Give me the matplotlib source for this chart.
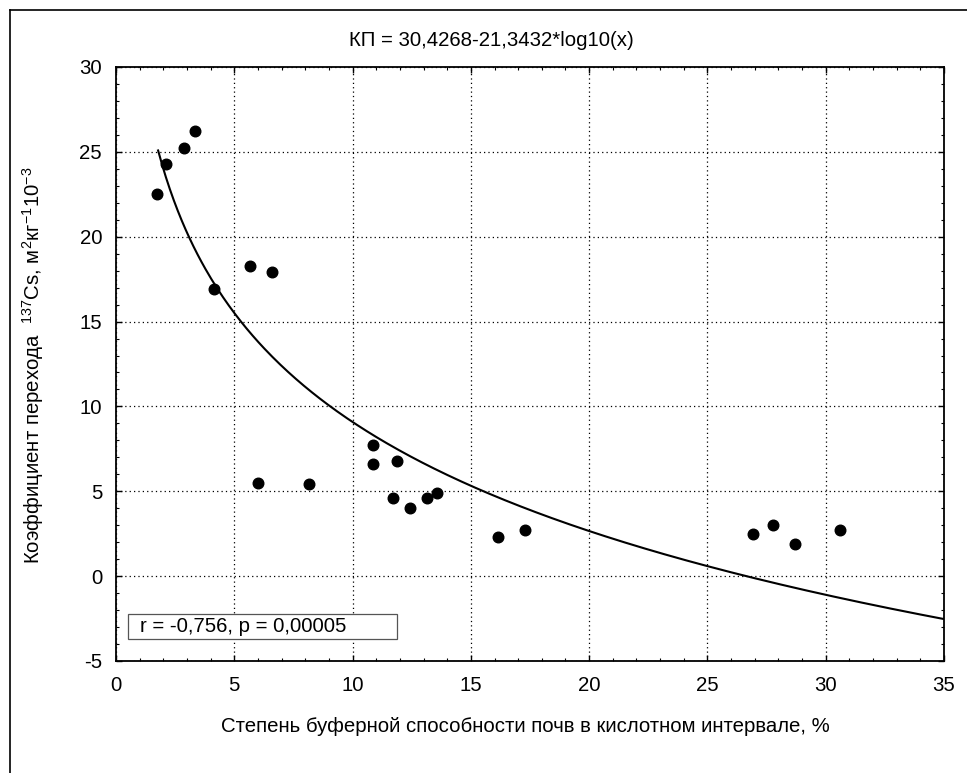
import numpy as np
import matplotlib
matplotlib.use("Agg")
import matplotlib.pyplot as plt
from matplotlib.lines import Line2D
from matplotlib.patches import Rectangle
from matplotlib.ticker import MultipleLocator

plt.rcParams['font.family'] = ['Liberation Sans', 'DejaVu Sans']
plt.rcParams['mathtext.fontset'] = 'custom'
plt.rcParams['mathtext.rm'] = 'Liberation Sans'
plt.rcParams['mathtext.it'] = 'Liberation Sans'
plt.rcParams['mathtext.bf'] = 'Liberation Sans'
plt.rcParams['axes.unicode_minus'] = False

# Data
buffer_pct = [1.73, 2.11, 2.87, 3.34, 4.14, 5.66, 6.59, 6.00, 8.16, 10.86, 10.86,
              11.88, 11.71, 12.43, 13.14, 13.57, 16.15, 17.29, 26.92, 27.77, 28.70, 30.62]
transfer_coef = [22.5, 24.3, 25.2, 26.2, 16.9, 18.3, 17.9, 5.5, 5.4, 7.7, 6.6,
                 6.8, 4.6, 4.0, 4.6, 4.9, 2.3, 2.7, 2.5, 3.0, 1.9, 2.7]
fit_a = 30.4268
fit_b = -21.3432
fit_x_start = 1.78
fit_x_end = 35

title_text = "КП = 30,4268-21,3432*log10(x)"
xlabel_text = "Степень буферной способности почв в кислотном интервале, %"
ylabel_text = r"Коэффициент перехода  $^{137}$Cs, м$^{2}$кг$^{-1}$10$^{-3}$"
stats_text = "r = -0,756, p = 0,00005"

FS = 14.7
W, H = 967, 773

fig = plt.figure(figsize=(W/100, H/100), dpi=100)
ax = fig.add_axes([116/W, 1-661/H, (944-116)/W, (661-67)/H])

xf = np.linspace(fit_x_start, fit_x_end, 400)
yf = fit_a + fit_b * np.log10(xf)
ax.plot(xf, yf, color='black', lw=1.5, zorder=3)
ax.scatter(buffer_pct, transfer_coef, s=58, color='black', zorder=4)

ax.set_xlim(0, 35)
ax.set_ylim(-5, 30)
ax.xaxis.set_major_locator(MultipleLocator(5))
ax.yaxis.set_major_locator(MultipleLocator(5))
ax.xaxis.set_minor_locator(MultipleLocator(1))
ax.yaxis.set_minor_locator(MultipleLocator(1))
ax.tick_params(which='both', direction='in', top=True, right=True, labelsize=FS, colors='black')
ax.tick_params(which='major', length=4, width=1)
ax.tick_params(which='minor', length=2.5, width=0.8)
ax.tick_params(axis='x', pad=11)
ax.tick_params(axis='y', pad=10)
ax.grid(True, which='major', linestyle=(0, (1, 2.5)), color='black', lw=0.9)
for sp in ax.spines.values():
    sp.set_linewidth(1.3)

fig.text(525/W, 1 - 727/H, xlabel_text, fontsize=FS, ha='center', va='center')
fig.text(33/W, 1 - 365/H, ylabel_text, fontsize=FS, ha='center', va='center', rotation=90)
fig.text(491/W, 1 - 40/H, title_text, fontsize=FS, ha='center', va='center')

# statistics box
bx0, bx1 = (128-116)/828, (397-116)/828
by0, by1 = (661-639)/594, (661-614)/594
ax.add_patch(Rectangle((bx0, by0), bx1-bx0, by1-by0, transform=ax.transAxes,
                       fc='white', ec='#555555', lw=0.9, zorder=5))
ax.text((140-116)/828, (by0+by1)/2, stats_text, transform=ax.transAxes, fontsize=FS,
        ha='left', va='center', zorder=6)

fig.add_artist(Line2D([10/W, 10/W], [0, 1 - 10/H], color='black', lw=1.2))
fig.add_artist(Line2D([10/W, 1.0], [1 - 10/H, 1 - 10/H], color='black', lw=1.2))

fig.savefig("out.png", dpi=100, facecolor='white')
